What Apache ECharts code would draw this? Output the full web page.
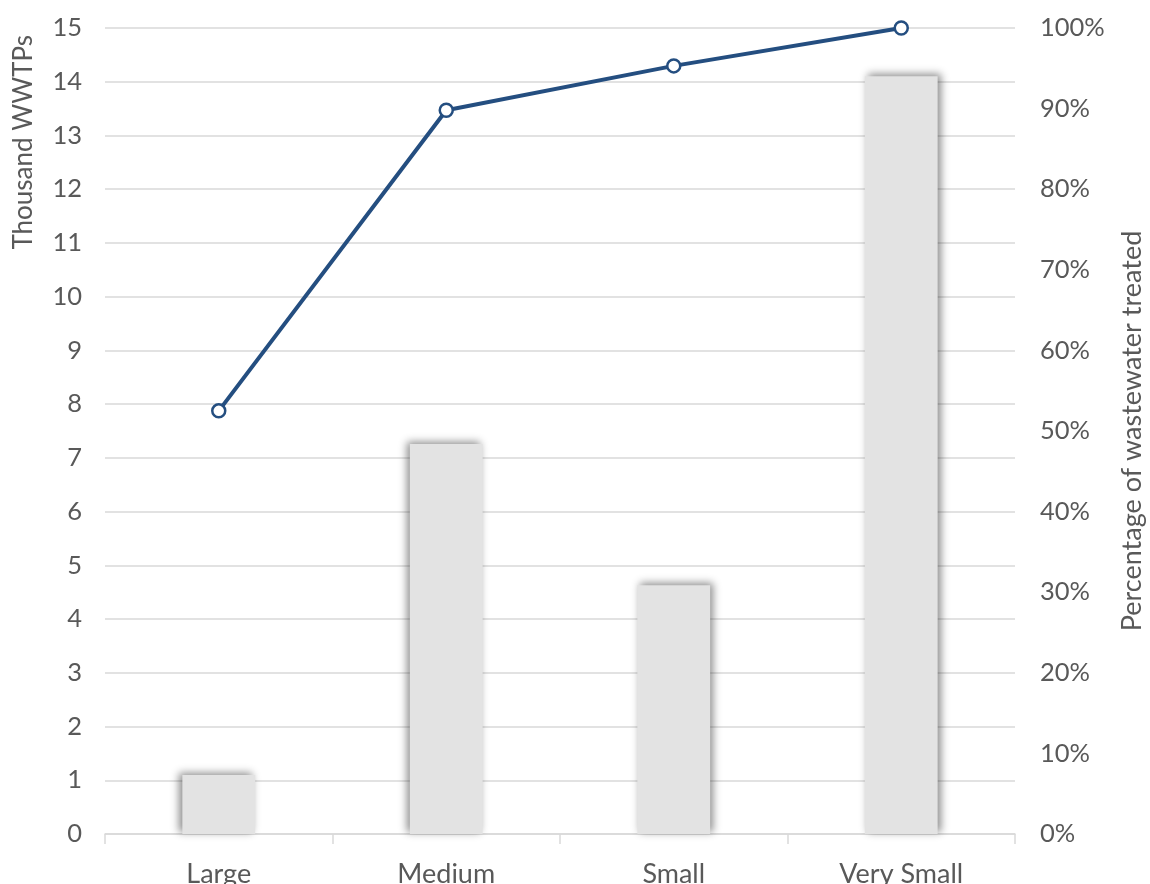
<!DOCTYPE html>
<html>
<head>
<meta charset="utf-8">
<style>
  html, body { margin: 0; padding: 0; background: #ffffff; }
  #chart { width: 1150px; height: 884px; }
</style>
<script src="https://cdn.jsdelivr.net/npm/echarts@6/dist/echarts.min.js"></script>
</head>
<body>
<div id="chart"></div>
<script>
// Plant size classes
const categories = ['Large', 'Medium', 'Small', 'Very Small'];
// Number of wastewater treatment plants (thousands)
const plantCounts = [1.1, 7.26, 4.63, 14.1];
// Cumulative share of wastewater treated (%)
const cumulativeShare = [52.5, 89.8, 95.3, 100];
// Side of each bar that carries the drop shadow (-1 left, 1 right)
const shadowSide = [-1, -1, 1, 1];

const FONT = 'Lato, "Open Sans", sans-serif';
const TEXT = '#595959';

const chart = echarts.init(document.getElementById('chart'), null, { renderer: 'canvas' });

chart.setOption({
  animation: false,
  backgroundColor: '#ffffff',
  grid: {
    left: 105, right: 135, top: 28, bottom: 50,
    containLabel: false,
    outerBoundsMode: 'none'
  },
  graphic: [{
    type: 'text',
    left: 11,
    top: 35,
    rotation: Math.PI / 2,
    style: {
      text: 'Thousand WWTPs',
      font: '26px ' + FONT,
      fill: TEXT
    }
  }],
  xAxis: {
    type: 'category',
    data: categories,
    axisLine: { lineStyle: { color: '#d9d9d9', width: 1.5 } },
    axisTick: { show: true, length: 10, lineStyle: { color: '#d9d9d9', width: 1.5 } },
    axisLabel: { color: TEXT, fontSize: 27, fontFamily: FONT, margin: 27 }
  },
  yAxis: [{
    type: 'value',
    min: 0, max: 15, interval: 1,
    axisLine: { show: false },
    axisTick: { show: false },
    splitLine: { lineStyle: { color: '#d9d9d9', width: 1.5 } },
    axisLabel: { color: TEXT, fontSize: 25.5, fontFamily: FONT, margin: 23 }
  }, {
    type: 'value',
    min: 0, max: 100, interval: 10,
    name: 'Percentage of wastewater treated',
    nameLocation: 'middle',
    nameGap: 104,
    nameRotate: 90,
    nameTextStyle: { color: TEXT, fontSize: 27, fontFamily: FONT },
    axisLine: { show: false },
    axisTick: { show: false },
    splitLine: { show: false },
    axisLabel: { color: TEXT, fontSize: 25.5, fontFamily: FONT, margin: 25, formatter: '{value}%' }
  }],
  series: [{
    type: 'bar',
    yAxisIndex: 0,
    barWidth: '32%',
    data: plantCounts.map((v, i) => ({
      value: v,
      itemStyle: {
        color: '#e3e3e3',
        shadowColor: 'rgba(0,0,0,0.45)',
        shadowBlur: 8,
        shadowOffsetX: 3 * shadowSide[i],
        shadowOffsetY: -2
      }
    })),
    z: 2
  }, {
    type: 'line',
    yAxisIndex: 1,
    data: cumulativeShare,
    symbol: 'circle',
    symbolSize: 13,
    lineStyle: { color: '#244e80', width: 4 },
    itemStyle: { color: '#ffffff', borderColor: '#244e80', borderWidth: 2.5 },
    z: 5
  }]
});
</script>
</body>
</html>
